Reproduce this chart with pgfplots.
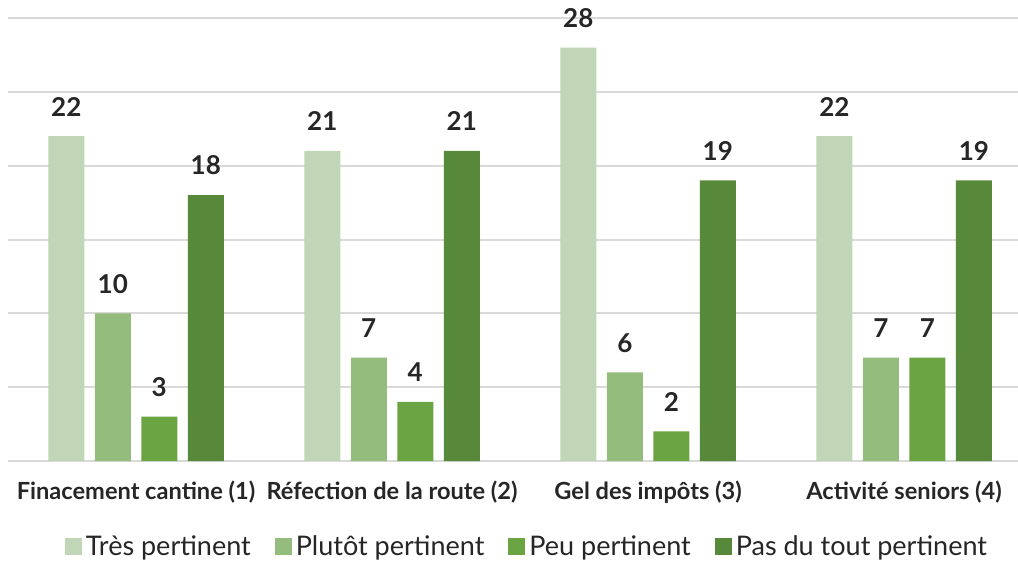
\documentclass[border=0pt]{standalone}
\usepackage{fontspec}
\setmainfont{Lato}
\usepackage{pgfplots}
\pgfplotsset{compat=1.18}
\definecolor{cTres}{HTML}{C0D6B6}
\definecolor{cPlutot}{HTML}{94BC7C}
\definecolor{cPeu}{HTML}{6AA443}
\definecolor{cPas}{HTML}{58883A}
\definecolor{txt}{HTML}{262626}
\definecolor{grd}{HTML}{D9D9D9}
\begin{document}
\begin{tikzpicture}
\begin{axis}[
    name=ax,
    scale only axis,
    width=505pt, height=221.5pt,
    xmin=-0.5, xmax=3.445,
    ymin=0, ymax=30,
    ybar=5.25pt, bar width=18pt,
    xtick={0,1,2,3},
    xticklabels={Finacement cantine (1),Réfection de la route (2),Gel des impôts (3),Activité seniors (4)},
    xticklabel style={font=\fontsize{11.8}{13}\selectfont\bfseries, text=txt, yshift=-6.5pt},
    major tick length=0pt,
    ytick={0,5,...,30}, yticklabels={},
    ymajorgrids, major grid style={draw=grd, line width=1pt},
    axis line style={draw=none},
    /pgf/number format/assume math mode=true,
    nodes near coords,
    every node near coord/.append style={font=\fontsize{13}{14}\selectfont\bfseries, text=txt, yshift=6.5pt},
    legend columns=4,
    legend style={draw=none, at={(0.5,-0.194)}, anchor=center, xshift=7.5pt,
        font=\fontsize{13.5}{15}\selectfont, text=txt,
        /tikz/every even column/.append style={column sep=10pt}},
    legend image code/.code={\fill[#1] (0pt,-4pt) rectangle (8.5pt,4.5pt);},
    clip=false,
]
\addplot[fill=cTres, draw=none] coordinates {(0,22) (1,21) (2,28) (3,22)};
\addplot[fill=cPlutot, draw=none] coordinates {(0,10) (1,7) (2,6) (3,7)};
\addplot[fill=cPeu, draw=none] coordinates {(0,3) (1,4) (2,2) (3,7)};
\addplot[fill=cPas, draw=none] coordinates {(0,18) (1,21) (2,19) (3,19)};
\legend{Très pertinent, Plutôt pertinent, Peu pertinent, Pas du tout pertinent}
\end{axis}
\pgfresetboundingbox
\path[use as bounding box] ([xshift=-4pt,yshift=-50.5pt]ax.south west) rectangle ([yshift=9pt]ax.north east);
\end{tikzpicture}
\end{document}
